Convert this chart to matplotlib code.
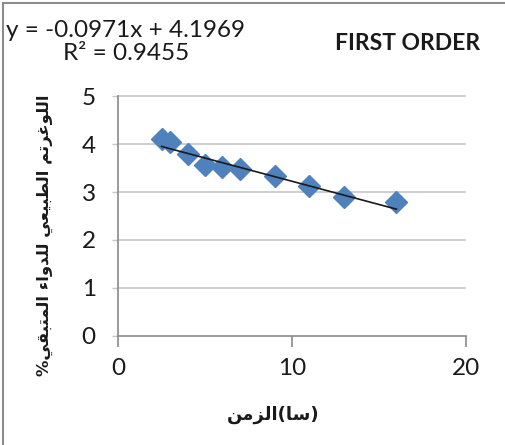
import matplotlib
matplotlib.use("Agg")
import matplotlib.pyplot as plt
from matplotlib.lines import Line2D
import numpy as np

# ---- data ----
time_h = [2.5, 3, 4, 5, 6, 7, 9, 11, 13, 16]
ln_remaining = [4.11, 4.04, 3.79, 3.56, 3.52, 3.49, 3.33, 3.13, 2.90, 2.79]
trend_slope = -0.0971
trend_intercept = 4.1969
r_squared = 0.9455
x_ticks = [0, 10, 20]
y_ticks = [0, 1, 2, 3, 4, 5]
title_text = "FIRST ORDER"
xlabel_word = "الزمن"
xlabel_unit = "سا"
ylabel_text = "اللوغرتم الطبيعي للدواء المتبقي%"

# ---- minimal Arabic shaping (presentation forms) ----
FORMS = {
    'ا': ('\uFE8D', '\uFE8E', None, None),
    'ب': ('\uFE8F', '\uFE90', '\uFE91', '\uFE92'),
    'ت': ('\uFE95', '\uFE96', '\uFE97', '\uFE98'),
    'د': ('\uFEA9', '\uFEAA', None, None),
    'ر': ('\uFEAD', '\uFEAE', None, None),
    'ز': ('\uFEAF', '\uFEB0', None, None),
    'س': ('\uFEB1', '\uFEB2', '\uFEB3', '\uFEB4'),
    'ط': ('\uFEC1', '\uFEC2', '\uFEC3', '\uFEC4'),
    'ع': ('\uFEC9', '\uFECA', '\uFECB', '\uFECC'),
    'غ': ('\uFECD', '\uFECE', '\uFECF', '\uFED0'),
    'ق': ('\uFED5', '\uFED6', '\uFED7', '\uFED8'),
    'ل': ('\uFEDD', '\uFEDE', '\uFEDF', '\uFEE0'),
    'م': ('\uFEE1', '\uFEE2', '\uFEE3', '\uFEE4'),
    'ن': ('\uFEE5', '\uFEE6', '\uFEE7', '\uFEE8'),
    'و': ('\uFEED', '\uFEEE', None, None),
    'ي': ('\uFEF1', '\uFEF2', '\uFEF3', '\uFEF4'),
    'ء': ('\uFE80', None, None, None),
}


def is_dual(c):
    return c in FORMS and FORMS[c][2] is not None


def joins(c):
    return c in FORMS and FORMS[c][1] is not None


def rtl(s):
    out = []
    for i, c in enumerate(s):
        if c not in FORMS:
            out.append(c)
            continue
        prev = s[i - 1] if i > 0 else ''
        nxt = s[i + 1] if i + 1 < len(s) else ''
        cp = is_dual(prev) and joins(c)
        cn = is_dual(c) and joins(nxt)
        iso, fin, ini, med = FORMS[c]
        if cp and cn:
            out.append(med)
        elif cp:
            out.append(fin)
        elif cn:
            out.append(ini)
        else:
            out.append(iso)
    return ''.join(out)[::-1]


W, H = 505, 445
fig = plt.figure(figsize=(W / 100, H / 100), dpi=100)
fig.patch.set_facecolor('white')

ax = fig.add_axes([118 / W, 1 - 335.6 / H, (466 - 118) / W, (335.6 - 94) / H])

grid_c = '#c6c6c6'
axis_c = '#8a8a8a'
ax.set_xlim(0, 20)
ax.set_ylim(0, 5.05)
ax.set_xticks(x_ticks)
ax.set_yticks(y_ticks)
for y in y_ticks[1:]:
    ax.axhline(y, color=grid_c, lw=1.2, zorder=0)

for s in ['top', 'right']:
    ax.spines[s].set_visible(False)
ax.spines['left'].set_color(axis_c)
ax.spines['bottom'].set_color(axis_c)
ax.spines['left'].set_linewidth(1.2)
ax.spines['bottom'].set_linewidth(1.2)
ax.spines['left'].set_bounds(0, 5)
ax.tick_params(axis='x', direction='out', length=8, width=1.2, color=axis_c,
               pad=8, labelsize=17.5)
ax.tick_params(axis='y', direction='out', length=4, width=1.0, color=grid_c,
               pad=12, labelsize=17.5)
for lab in ax.get_xticklabels() + ax.get_yticklabels():
    lab.set_fontfamily('Lato')
    lab.set_color('#1a1a1a')

xs = np.array([min(time_h), max(time_h)])
ax.plot(xs, trend_intercept + trend_slope * xs, color='#1a1a1a', lw=1.2, zorder=3)
ax.plot(time_h, ln_remaining, linestyle='none', marker='D', markersize=11.5,
        color='#4f81bd', markeredgecolor='#4f81bd', zorder=2, clip_on=False)

# equation
eq = f"y = {trend_slope:.4f}x + {trend_intercept:.4f}\nR² = {r_squared:.4f}"
fig.text(126 / W, 1 - 42 / H, eq, ha='center', va='center', multialignment='center',
         fontsize=17.5, family='Lato', color='#1a1a1a', linespacing=1.1)
fig.text(408 / W, 1 - 44 / H, title_text, ha='center', va='center', fontsize=16.5,
         family='Lato', fontweight='bold', color='#1a1a1a')

# axis labels (Arabic)
xlabel_vis = rtl(xlabel_word) + '(' + rtl(xlabel_unit) + ')'
fig.text(273 / W, 1 - 415 / H, xlabel_vis, ha='center', va='center', fontsize=13,
         family=['DejaVu Sans'], fontweight='bold', color='#1a1a1a')
fig.text(45 / W, 1 - 235 / H, rtl(ylabel_text), ha='center', va='center', rotation=90,
         fontsize=11.8, family=['DejaVu Sans'], fontweight='bold', color='#1a1a1a')

# chart border (left and top visible)
fig.add_artist(Line2D([2.5 / W, 2.5 / W], [0, 1 - 2.5 / H], transform=fig.transFigure,
                      color='#8c8c8c', lw=1.5))
fig.add_artist(Line2D([2.5 / W, 1], [1 - 2.5 / H, 1 - 2.5 / H], transform=fig.transFigure,
                      color='#8c8c8c', lw=1.5))

fig.savefig('out.png', dpi=100, facecolor='white')
